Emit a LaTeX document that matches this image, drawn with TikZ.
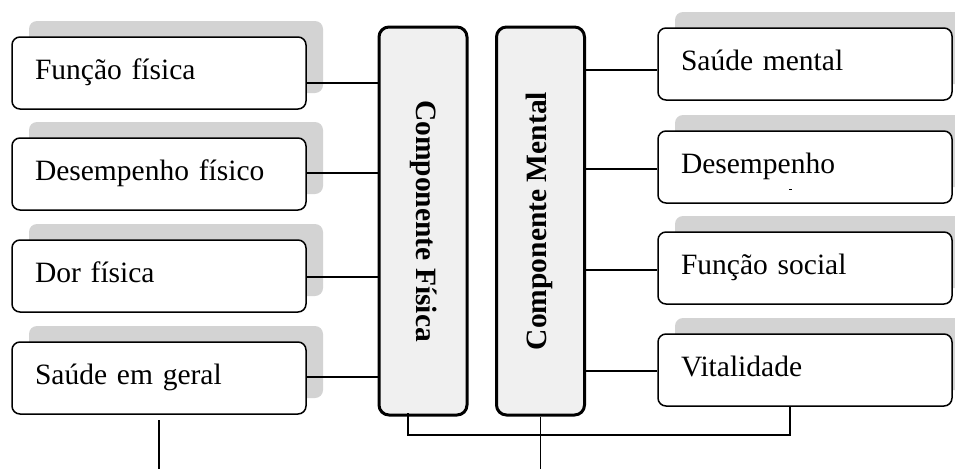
\documentclass[tikz,border=0pt]{standalone}
\usepackage{fontspec}
\setmainfont{Liberation Serif}
\definecolor{shadegray}{RGB}{211,211,211}
\definecolor{panelgray}{RGB}{240,240,240}
\begin{document}
\begin{tikzpicture}[x=1pt,y=-1pt,
  itembox/.style={draw=black, line width=1.5pt, rounded corners=8pt, fill=white,
    minimum width=294pt, minimum height=72pt, inner xsep=23pt, inner ysep=0pt,
    text width=248pt, align=left, text height=20pt, text depth=7pt,
    font=\fontsize{29.5}{34}\selectfont},
  shadebox/.style={fill=shadegray, rounded corners=8pt,
    minimum width=294pt, minimum height=72pt, inner sep=0pt},
  panel/.style={draw=black, line width=3pt, rounded corners=10pt, fill=panelgray,
    minimum width=88pt, minimum height=388pt, inner sep=0pt},
  paneltext/.style={font=\bfseries\fontsize{29.5}{34}\selectfont, inner sep=0pt},
  wire/.style={draw=black, line width=1.5pt}]
\clip (0,0) rectangle (955,469);
\useasboundingbox (0,0) rectangle (955,469);

% shadows behind the item boxes
\node[shadebox] (ls1) at (176,57) {};
\node[shadebox] (ls2) at (176,158) {};
\node[shadebox] (ls3) at (176,260) {};
\node[shadebox] (ls4) at (176,362) {};
\node[shadebox] (rs1) at (822,48) {};
\node[shadebox] (rs2) at (822,151) {};
\node[shadebox] (rs3) at (822,252) {};
\node[shadebox] (rs4) at (822,354) {};

% left column: physical dimensions
\node[itembox] (lb1) at (159,73) {Função física};
\node[itembox] (lb2) at (159,174) {Desempenho físico};
\node[itembox] (lb3) at (159,276) {Dor física};
\node[itembox] (lb4) at (159,378) {Saúde em geral};

% right column: mental dimensions
\node[itembox] (rb1) at (805,64) {Saúde mental};
\node[itembox] (rb2) at (805,167) {Desempenho};
\node[itembox] (rb3) at (805,268) {Função social};
\node[itembox] (rb4) at (805,370) {Vitalidade};
\draw[line width=1pt] (789,189) -- (792,189);

% the two summary components
\node[panel] (fis) at (423,221) {};
\node[panel] (men) at (540.5,221) {};
\node[paneltext, rotate=-90] (fisl) at (424,221) {Componente Física};
\node[paneltext, rotate=90] (menl) at (539,221) {Componente Mental};

% connector heights
\coordinate (h1) at (0,83);
\coordinate (h2) at (0,173);
\coordinate (h3) at (0,277);
\coordinate (h4) at (0,377);
\coordinate (k1) at (0,70);
\coordinate (k2) at (0,169);
\coordinate (k3) at (0,270);
\coordinate (k4) at (0,371);

\draw[wire] (lb1.east |- h1) -- (fis.west |- h1);
\draw[wire] (lb2.east |- h2) -- (fis.west |- h2);
\draw[wire] (lb3.east |- h3) -- (fis.west |- h3);
\draw[wire] (lb4.east |- h4) -- (fis.west |- h4);
\draw[wire] (men.east |- k1) -- (rb1.west |- k1);
\draw[wire] (men.east |- k2) -- (rb2.west |- k2);
\draw[wire] (men.east |- k3) -- (rb3.west |- k3);
\draw[wire] (men.east |- k4) -- (rb4.west |- k4);

% bottom links
\coordinate (fb) at (408,413);
\coordinate (vb) at (790,407);
\coordinate (lowrail) at (0,435);
\coordinate (pageend) at (0,469);
\draw[wire] (fb) -- (fb |- lowrail) -- (vb |- lowrail) -- (vb);
\draw[wire] (men.south) -- (men.south |- pageend);
\coordinate (gb) at (159,420);
\draw[wire] (gb) -- (gb |- pageend);
\end{tikzpicture}
\end{document}
